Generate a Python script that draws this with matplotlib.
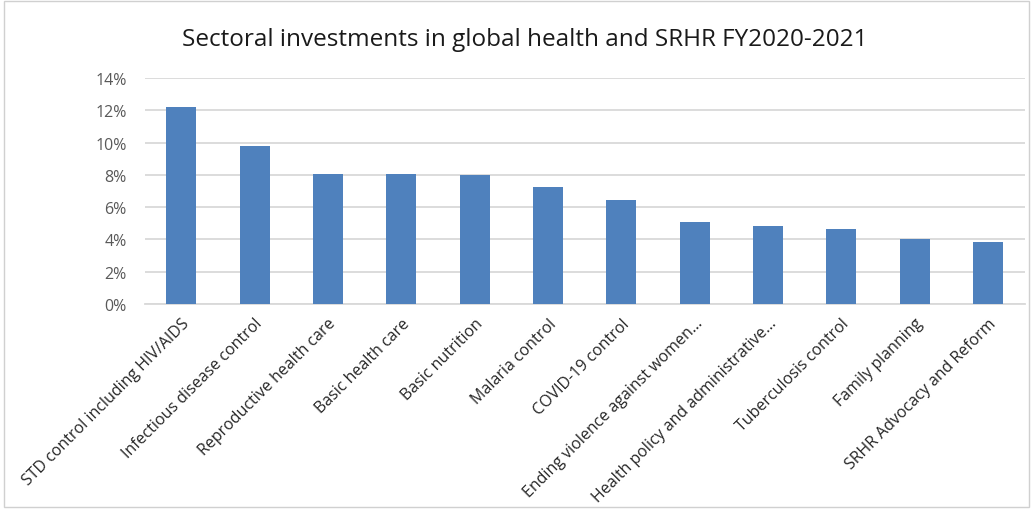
import matplotlib
matplotlib.use("Agg")
import matplotlib.pyplot as plt
from matplotlib.ticker import FuncFormatter, MultipleLocator
from matplotlib.patches import Rectangle

categories = [
    "STD control including HIV/AIDS",
    "Infectious disease control",
    "Reproductive health care",
    "Basic health care",
    "Basic nutrition",
    "Malaria control",
    "COVID-19 control",
    "Ending violence against women…",
    "Health policy and administrative…",
    "Tuberculosis control",
    "Family planning",
    "SRHR Advocacy and Reform",
]
values = [0.1222, 0.0979, 0.0807, 0.0807, 0.0801, 0.0725, 0.0645,
          0.0508, 0.0483, 0.0467, 0.0400, 0.0382]
title = "Sectoral investments in global health and SRHR FY2020-2021"

plt.rcParams['font.family'] = ['Open Sans', 'DejaVu Sans']

fig = plt.figure(figsize=(10.33, 5.10), dpi=100)
ax = fig.add_axes([0.140, 0.402, 0.852, 0.443])

x = range(len(categories))
ax.bar(x, values, width=0.41, color="#4f81bd", zorder=3)
ax.set_xlim(-0.5, len(categories) - 0.5)
ax.set_ylim(0, 0.14)
ax.yaxis.set_major_locator(MultipleLocator(0.02))
ax.yaxis.set_major_formatter(FuncFormatter(lambda v, p: f"{v*100:.0f}%"))
ax.grid(axis="y", color="#d9d9d9", linewidth=1.3, zorder=0)
for s in ["top", "right", "left"]:
    ax.spines[s].set_visible(False)
ax.spines["bottom"].set_color("#d9d9d9")
ax.spines["bottom"].set_linewidth(1.3)
ax.tick_params(axis="y", length=0, labelsize=11.5, labelcolor="#595959", pad=13)
ax.tick_params(axis="x", length=0, labelsize=11.5, labelcolor="#262626", pad=8)
ax.set_xticks(list(x))
ax.set_xticklabels(categories, rotation=45, ha="right", rotation_mode="anchor")

fig.text(0.508, 0.922, title, ha="center", va="center", fontsize=17.5, color="#1a1a1a")

fig.patches.append(Rectangle((0.004, 0.004), 0.992, 0.992, transform=fig.transFigure,
                             fill=False, edgecolor="#d0d0d0", linewidth=1.0))

fig.savefig("out.png", dpi=100)
